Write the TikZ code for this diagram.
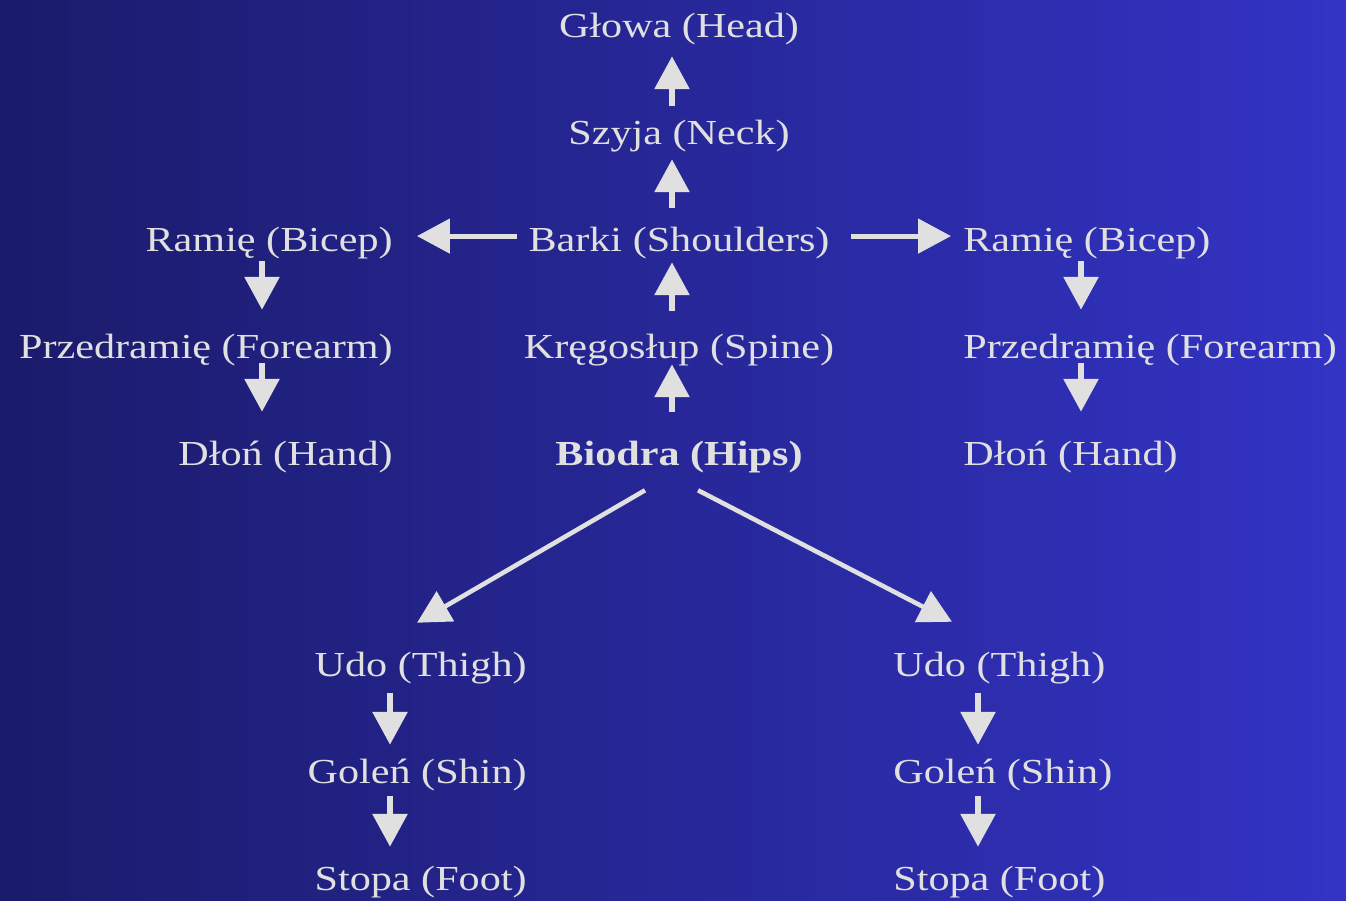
\documentclass[tikz,border=0pt]{standalone}
\usepackage{fontspec}
\setmainfont[FakeStretch=1.2]{Liberation Serif}
\usetikzlibrary{arrows.meta}

\definecolor{bgleft}{RGB}{27,27,107}
\definecolor{bgright}{RGB}{51,51,197}
\definecolor{ink}{RGB}{224,224,224}

\tikzset{
	part/.style={inner sep=0pt, text=ink, font=\fontsize{20}{24}\selectfont,
		text height=14pt, text depth=4.4pt},
	link/.style={draw=ink, line width=3.4pt,
		-{Triangle[width=19.3pt,length=18.7pt]}},
	hlink/.style={link, line width=2.8pt},
	dlink/.style={link, line width=2.6pt}
}

\begin{document}
\begin{tikzpicture}[x=0.02cm, y=-0.02cm]
	% backdrop
	\shade[left color=bgleft, right color=bgright] (0,0) rectangle (1346,900);
	\useasboundingbox (0,0) rectangle (1346,900);

	% spine column
	\node[part, anchor=base] (head)  at (679,37)  {Głowa (Head)};
	\node[part, anchor=base] (neck)  at (679,144) {Szyja (Neck)};
	\node[part, anchor=base] (barki) at (679,251) {Barki (Shoulders)};
	\node[part, anchor=base] (spine) at (679,358) {Kręgosłup (Spine)};
	\node[part, anchor=base, font=\fontsize{20}{24}\selectfont\bfseries] (hips) at (679,465) {Biodra (Hips)};

	% left arm
	\node[part, anchor=base east] (ramL) at (393,251) {Ramię (Bicep)};
	\node[part, anchor=base east] (przL) at (393,358) {Przedramię (Forearm)};
	\node[part, anchor=base east] (dlonL) at (393,465) {Dłoń (Hand)};

	% right arm
	\node[part, anchor=base west] (ramR) at (963,251) {Ramię (Bicep)};
	\node[part, anchor=base west] (przR) at (963,358) {Przedramię (Forearm)};
	\node[part, anchor=base west] (dlonR) at (963,465) {Dłoń (Hand)};

	% left leg
	\node[part, anchor=base east] (udoL) at (527,676) {Udo (Thigh)};
	\node[part, anchor=base east] (golL) at (527,783) {Goleń (Shin)};
	\node[part, anchor=base east] (stopaL) at (527,890) {Stopa (Foot)};

	% right leg
	\node[part, anchor=base west] (udoR) at (893,676) {Udo (Thigh)};
	\node[part, anchor=base west] (golR) at (893,783) {Goleń (Shin)};
	\node[part, anchor=base west] (stopaR) at (893,890) {Stopa (Foot)};

	% up the spine
	\draw[link] ([shift={(-7,-13.3)}]neck.north) -- ([shift={(-7,11.2)}]head.south);
	\draw[link] ([shift={(-7,-18.3)}]barki.north) -- ([shift={(-7,7.2)}]neck.south);
	\draw[link] ([shift={(-7,-22.3)}]spine.north) -- ([shift={(-7,3.2)}]barki.south);
	\draw[link] ([shift={(-7,-28.3)}]hips.north) -- ([shift={(-7,-1.8)}]spine.south);

	% shoulders to arms
	\draw[hlink] ([shift={(-11,-6.5)}]barki.west) -- ([shift={(24,-6.5)}]ramL.east);
	\draw[hlink] ([shift={(21,-6.5)}]barki.east) -- ([shift={(-12,-6.5)}]ramR.west);

	% arms down
	\draw[link] ([shift={(-131,2.2)}]ramL.south east) -- ([shift={(-131,-23.3)}]przL.north east);
	\draw[link] ([shift={(-131,-2.8)}]przL.south east) -- ([shift={(-131,-28.3)}]dlonL.north east);
	\draw[link] ([shift={(118,2.2)}]ramR.south west) -- ([shift={(118,-23.3)}]przR.north west);
	\draw[link] ([shift={(118,-2.8)}]przR.south west) -- ([shift={(118,-28.3)}]dlonR.north west);

	% hips to legs
	\draw[dlink] ([shift={(-34,17.2)}]hips.south) -- ([shift={(-110,-28.3)}]udoL.north east);
	\draw[dlink] ([shift={(19,17.2)}]hips.south) -- ([shift={(59,-29.3)}]udoR.north west);

	% legs down
	\draw[link] ([shift={(-137,9.2)}]udoL.south east) -- ([shift={(-137,-13.3)}]golL.north east);
	\draw[link] ([shift={(-137,5.2)}]golL.south east) -- ([shift={(-137,-18.3)}]stopaL.north east);
	\draw[link] ([shift={(85,9.2)}]udoR.south west) -- ([shift={(85,-13.3)}]golR.north west);
	\draw[link] ([shift={(85,5.2)}]golR.south west) -- ([shift={(85,-18.3)}]stopaR.north west);
\end{tikzpicture}
\end{document}
